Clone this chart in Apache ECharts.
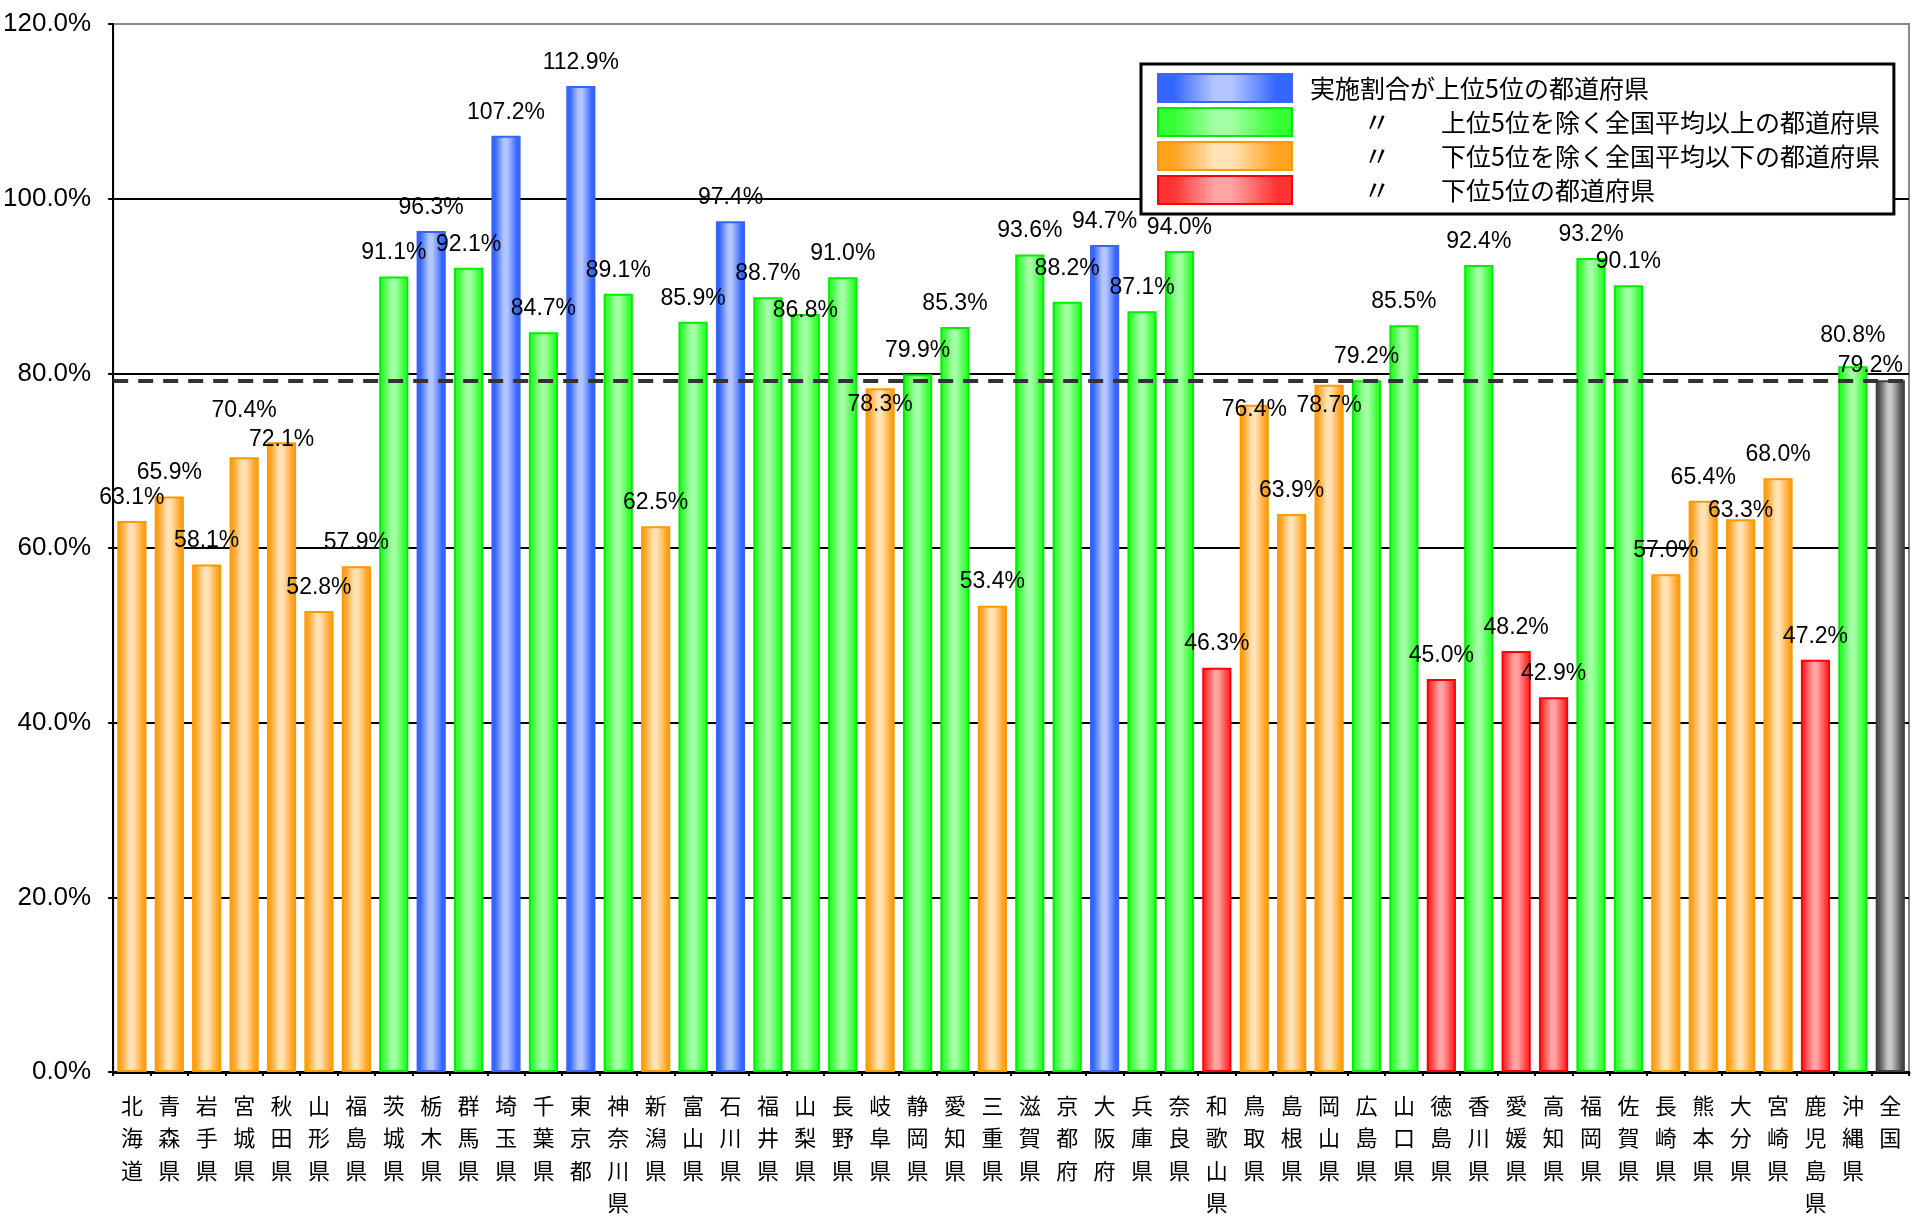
<!DOCTYPE html>
<html>
<head>
<meta charset="utf-8">
<script src="https://cdn.jsdelivr.net/npm/echarts@6/dist/echarts.min.js"></script>
<style>
html,body{margin:0;padding:0;background:#fff;}
#chart{width:1913px;height:1219px;}
</style>
</head>
<body>
<div id="chart"></div>
<script>
// ---- data ----
const prefectures = ['北海道','青森県','岩手県','宮城県','秋田県','山形県','福島県','茨城県','栃木県','群馬県','埼玉県','千葉県','東京都','神奈川県','新潟県','富山県','石川県','福井県','山梨県','長野県','岐阜県','静岡県','愛知県','三重県','滋賀県','京都府','大阪府','兵庫県','奈良県','和歌山県','鳥取県','島根県','岡山県','広島県','山口県','徳島県','香川県','愛媛県','高知県','福岡県','佐賀県','長崎県','熊本県','大分県','宮崎県','鹿児島県','沖縄県','全国'];
const rates = [63.1,65.9,58.1,70.4,72.1,52.8,57.9,91.1,96.3,92.1,107.2,84.7,112.9,89.1,62.5,85.9,97.4,88.7,86.8,91.0,78.3,79.9,85.3,53.4,93.6,88.2,94.7,87.1,94.0,46.3,76.4,63.9,78.7,79.2,85.5,45.0,92.4,48.2,42.9,93.2,90.1,57.0,65.4,63.3,68.0,47.2,80.8,79.2];
const groupNames = ['実施割合が上位5位の都道府県','上位5位を除く全国平均以上の都道府県','下位5位を除く全国平均以下の都道府県','下位5位の都道府県'];
const yTicks = [0,20,40,60,80,100,120];

// label nudges (px) for labels that sit off the default position in the original
const labelNudge = {3:[0,-23],4:[0,21],18:[0,20],20:[0,40],25:[0,-10],30:[0,28],32:[0,44],43:[0,15],46:[0,-7],47:[-20,9]};

// ---- grouping ----
const nationalIdx = prefectures.length - 1;
const national = rates[nationalIdx];
const prefIdx = rates.slice(0, nationalIdx).map((v,i)=>i);
const sortedDesc = prefIdx.slice().sort((a,b)=>rates[b]-rates[a]);
const top5 = new Set(sortedDesc.slice(0,5));
const bottom5 = new Set(sortedDesc.slice(-5));
function groupOf(i){
  if (i === nationalIdx) return 4;
  if (top5.has(i)) return 0;
  if (bottom5.has(i)) return 3;
  return rates[i] >= national ? 1 : 2;
}

function grad(edge, mid){
  return new echarts.graphic.LinearGradient(0,0,1,0,[
    {offset:0,color:edge},{offset:0.12,color:edge},
    {offset:0.42,color:mid},{offset:0.55,color:mid},
    {offset:0.88,color:edge},{offset:1,color:edge}]);
}
const styles = [
  {edge:'#3366ff', mid:'#b3c5ff', border:'#3a64f5'},
  {edge:'#33ff33', mid:'#a3ffa3', border:'#00ee00'},
  {edge:'#ffa21f', mid:'#ffe2b5', border:'#ff9900'},
  {edge:'#ff3333', mid:'#ffa3a3', border:'#ff0000'},
  {edge:'#505050', mid:'#c8c8c8', border:'#404040'}
];
const numFont = "'Liberation Sans',Arial,sans-serif";
const jpFont = "'Noto Sans CJK JP',sans-serif";

const series = [0,1,2,3,4].map(g=>{
  const data = rates.map((v,i)=>{
    if (groupOf(i) !== g) return '-';
    const item = {value:v};
    if (labelNudge[i]) item.label = {offset: labelNudge[i]};
    return item;
  });
  const s = styles[g];
  const ser = {
    name: g < 4 ? groupNames[g] : '全国',
    type:'bar',
    stack:'all',
    barCategoryGap:'22%',
    data,
    itemStyle:{color:grad(s.edge, s.mid), borderColor:s.border, borderWidth:2},
    label:{show:true, position:'top', distance:12, color:'#000', fontSize:23, fontFamily:numFont,
      formatter:p=>Number(p.value).toFixed(1)+'%'},
    emphasis:{disabled:true}
  };
  if (g === 4) {
    ser.markLine = {
      silent:true, symbol:['none','none'], label:{show:false},
      lineStyle:{color:'#333', width:4, type:[15,10]},
      data:[{yAxis:national}]
    };
  }
  return ser;
});

const chart = echarts.init(document.getElementById('chart'), null, {renderer:'canvas'});
chart.setOption({
  animation:false,
  backgroundColor:'#fff',
  grid:{left:110, right:4, top:24, bottom:137, show:true, borderColor:'#888', borderWidth:2},
  legend:{
    data:groupNames,
    orient:'vertical',
    left:1141, top:64,
    padding:[9,14,9,16],
    itemGap:4,
    itemWidth:134, itemHeight:28,
    icon:'rect',
    borderColor:'#000', borderWidth:3,
    backgroundColor:'#fff',
    selectedMode:false,
    textStyle:{fontSize:25, fontFamily:jpFont, color:'#000',
      rich:{
        s1:{width:13, fontSize:25},
        s2:{width:66, fontSize:25},
        q:{width:78, fontSize:28, fontFamily:jpFont},
        t:{fontSize:25, fontFamily:jpFont}
      }},
    formatter:name=>{
      const i = groupNames.indexOf(name);
      return i === 0 ? '{s1| }{t|'+name+'}' : '{s2| }{q|〃}{t|'+name+'}';
    }
  },
  xAxis:{
    type:'category',
    data:prefectures,
    axisLine:{lineStyle:{color:'#000', width:3}},
    axisTick:{show:true, length:4, lineStyle:{color:'#000', width:2}},
    axisLabel:{interval:0, margin:17, color:'#000', fontSize:22, lineHeight:32.5, fontFamily:jpFont,
      formatter:v=>v.split('').join('\n')}
  },
  yAxis:{
    type:'value',
    min:yTicks[0], max:yTicks[yTicks.length-1], interval:yTicks[1]-yTicks[0],
    axisLine:{show:true, lineStyle:{color:'#000', width:2}},
    axisTick:{show:true, length:5, lineStyle:{color:'#000', width:2}},
    splitLine:{show:true, lineStyle:{color:['#000','#000','#000','#000','#000','#000','#888'], width:2}},
    axisLabel:{color:'#000', fontSize:26, fontFamily:numFont, margin:22,
      formatter:v=>v.toFixed(1)+'%'}
  },
  series
});
</script>
</body>
</html>
